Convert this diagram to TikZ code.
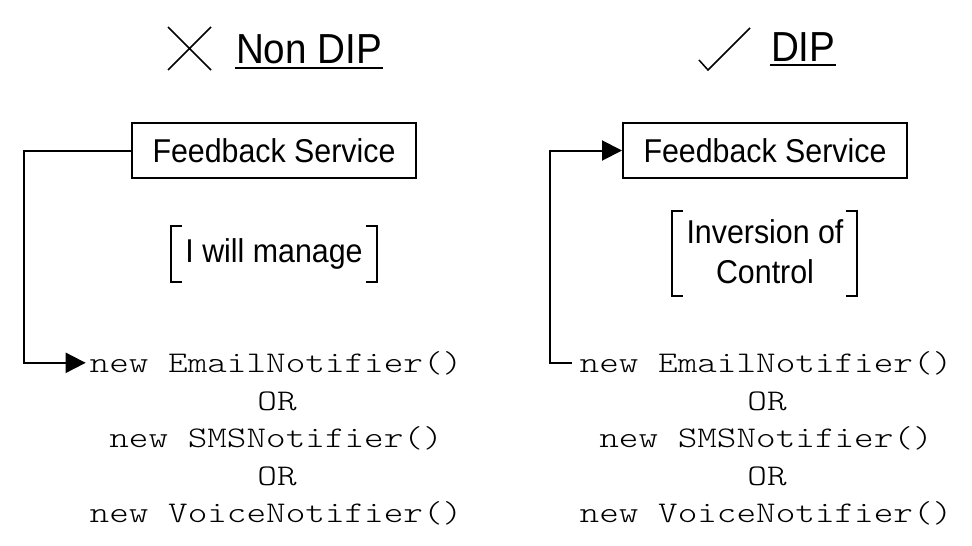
\documentclass[tikz,border=0pt]{standalone}
\usepackage{fontspec}
\setmainfont[FakeStretch=0.92]{Liberation Sans}
\IfFontExistsTF{Latin Modern Mono Light}
  {\newfontfamily\codefont[FakeStretch=1.245]{Latin Modern Mono Light}\def\codesize{30}}
  {\newfontfamily\codefont{Liberation Mono}\def\codesize{32.6}}
\usetikzlibrary{arrows.meta}
\begin{document}
\begin{tikzpicture}[x=1pt,y=-1pt, line width=2pt,
  title/.style={font=\fontsize{42}{50}\selectfont, inner sep=0pt, anchor=base west},
  box/.style={draw, line width=2pt, minimum width=284pt, minimum height=55pt, font=\fontsize{33}{40}\selectfont, inner sep=0pt},
  lbl/.style={font=\fontsize{33}{40}\selectfont, inner sep=0pt, anchor=base},
  code/.style={font=\codefont\fontsize{\codesize}{38}\selectfont, inner sep=0pt, anchor=base},
  thin/.style={line width=1.5pt},
  brk/.style={line width=2pt},
  arr/.style={line width=2pt, -{Triangle[length=20pt,width=20pt]}}]
\path[use as bounding box] (0,0) rectangle (972,546);

% titles
\draw[thin] (168,27) -- (211,70) (168,70) -- (211,27);
\node[title] (t1) at (235,63) {Non DIP};
\draw[thin] ([yshift=-5pt]t1.base west) -- ([yshift=-5pt]t1.base east);
\draw[thin] (699,60) -- (708,70) -- (750,28);
\node[title] (t2) at (770,61) {DIP};
\draw[thin] ([yshift=-4pt]t2.base west) -- ([yshift=-4pt]t2.base east);

% boxes
\node[box] (fb1) at (274,150.5) {Feedback Service};
\node[box] (fb2) at (765,150.5) {Feedback Service};

% bracketed labels
\node[lbl] (m1) at (274,262) {I will manage};
\draw[brk] (182,226) -- (171,226) -- (171,282) -- (182,282);
\draw[brk] (366,226) -- (377,226) -- (377,282) -- (366,282);
\node[lbl] (m2a) at (765,243) {Inversion of};
\node[lbl] (m2b) at (765,283) {Control};
\draw[brk] (683,211) -- (672,211) -- (672,296) -- (683,296);
\draw[brk] (846,211) -- (857,211) -- (857,296) -- (846,296);

% code lines left
\node[code] (e1) at (276,372) {new EmailNotifier()};
\node[code] (o1) at (277,410) {OR};
\node[code] (s1) at (276,447) {new SMSNotifier()};
\node[code] (p1) at (277,485) {OR};
\node[code] (v1) at (276,522) {new VoiceNotifier()};
% code lines right
\node[code] (e2) at (766,372) {new EmailNotifier()};
\node[code] (o2) at (767,410) {OR};
\node[code] (s2) at (766,447) {new SMSNotifier()};
\node[code] (p2) at (767,485) {OR};
\node[code] (v2) at (766,522) {new VoiceNotifier()};

% connectors
\coordinate (L) at (24,150.5);
\coordinate (R) at (550,150.5);
\draw[arr] (fb1.west) -- (L) |- ([xshift=-3pt]e1.west);
\draw[arr] ([xshift=-7pt]e2.west) -| (R) -- (fb2.west);
\end{tikzpicture}
\end{document}
